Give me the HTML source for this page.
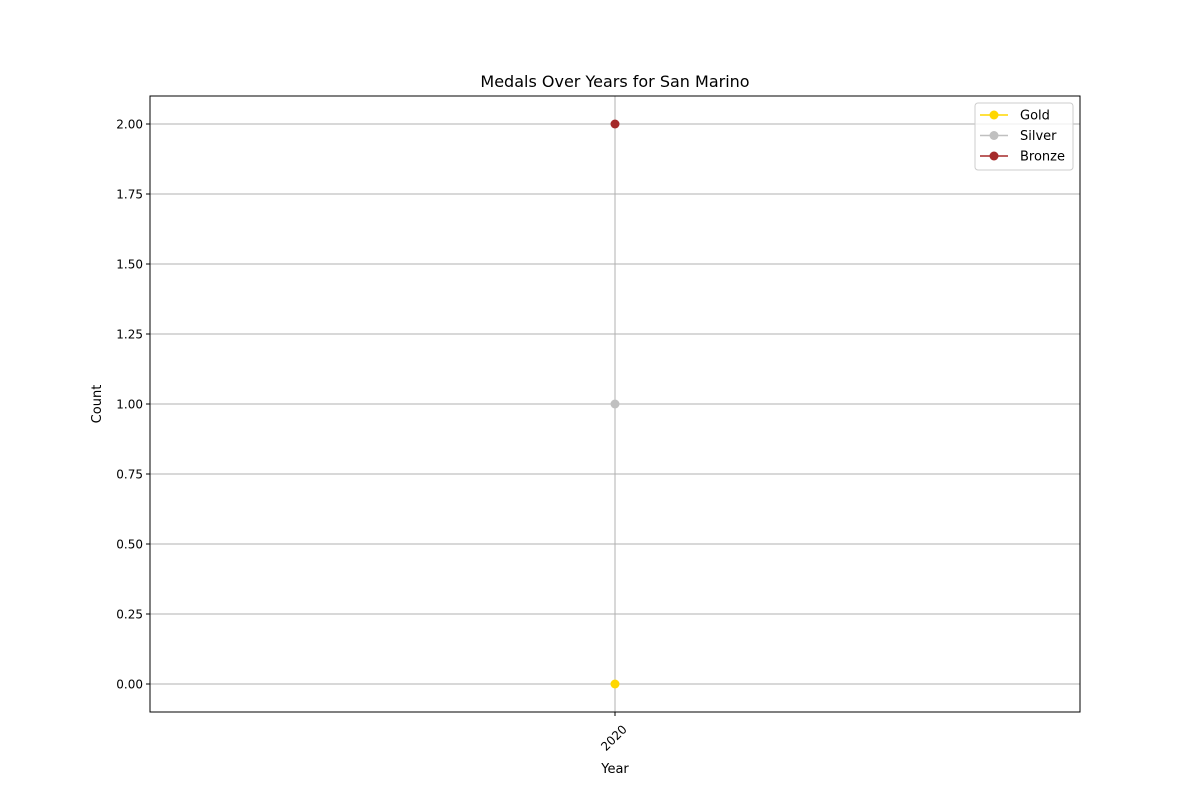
<!DOCTYPE html>
<html><head><meta charset="utf-8"><style>
html,body{margin:0;padding:0;background:#fff;}
svg{display:block;font-family:"DejaVu Sans","Liberation Sans",sans-serif;}
#grid line,#ticks line,.frame{shape-rendering:crispEdges;}
</style></head><body>
<svg id="chart" width="1200" height="800" viewBox="0 0 1200 800">
<rect x="0" y="0" width="1200" height="800" fill="#fff"/>
<g id="grid"></g>
<g id="series"></g>
<rect class="frame" x="150" y="96" width="930" height="616" fill="none" stroke="#000" stroke-width="1"/>
<g id="ticks"></g>
<text x="615" y="87" text-anchor="middle" font-size="16" fill="#000">Medals Over Years for San Marino</text>
<text x="615" y="773" text-anchor="middle" font-size="13" fill="#000">Year</text>
<text x="101" y="404" text-anchor="middle" font-size="13" fill="#000" transform="rotate(-90 101 404)">Count</text>
<g id="legend">
<rect x="975" y="103" width="98" height="67" rx="3" fill="#fff" fill-opacity="0.8" stroke="#ccc"/>
</g>
</svg>
<script>
const years = [2020];
const categories = ["Gold", "Silver", "Bronze"];
const colors = ["#FFD700", "#C0C0C0", "#A52A2A"];
const values = { Gold: [0], Silver: [1], Bronze: [2] };
const yTicks = [0, 0.25, 0.5, 0.75, 1, 1.25, 1.5, 1.75, 2];
const yTickLabels = ["0.00","0.25","0.50","0.75","1.00","1.25","1.50","1.75","2.00"];

const NS = "http://www.w3.org/2000/svg";
const L = 150, R = 1080, T = 96, B = 712;
const yMin = -0.1, yMax = 2.1;
function yScale(v){ return B - (v - yMin) / (yMax - yMin) * (B - T); }
function xScale(yr){
  if (years.length === 1) return (L + R) / 2;
  const mn = Math.min(...years), mx = Math.max(...years), pad = (mx - mn) * 0.05;
  return L + (yr - mn + pad) / (mx - mn + 2 * pad) * (R - L);
}
function mk(tag, attrs, parent){
  const e = document.createElementNS(NS, tag);
  for (const k in attrs) e.setAttribute(k, attrs[k]);
  parent.appendChild(e); return e;
}
const grid = document.getElementById('grid');
const ticks = document.getElementById('ticks');
yTicks.forEach((t, i) => {
  const y = yScale(t);
  const g = mk('line', {x1:L, x2:R, y1:y, y2:y, stroke:'#b0b0b0', 'stroke-width':1}, grid);
  
  
  const tk = mk('line', {x1:L-4, x2:L, y1:y, y2:y, stroke:'#000', 'stroke-width':1}, ticks);
  
  
  const tx = mk('text', {x:L-7, y:y+4.5, 'text-anchor':'end', 'font-size':12, fill:'#000'}, ticks);
  tx.textContent = yTickLabels[i];
  
  
});
years.forEach(yr => {
  const x = xScale(yr);
  const g = mk('line', {x1:x, x2:x, y1:T, y2:B, stroke:'#b0b0b0', 'stroke-width':1}, grid);
  
  
  const tk = mk('line', {x1:x, x2:x, y1:B, y2:B+4, stroke:'#000', 'stroke-width':1}, ticks);
  
  
  const cx = x - 1, cy = B + 26;
  const tx = mk('text', {x:cx, y:cy+4, 'text-anchor':'middle', 'font-size':12, fill:'#000', transform:`rotate(-45 ${cx} ${cy})`}, ticks);
  tx.textContent = String(yr);
  
  
});
const series = document.getElementById('series');
categories.forEach((c, ci) => {
  const pts = years.map((yr, i) => [xScale(yr), yScale(values[c][i])]);
  if (pts.length > 1) {
    const pl = mk('polyline', {points: pts.map(p => p.join(',')).join(' '), fill:'none', stroke:colors[ci], 'stroke-width':1.5}, series);
    
    
  }
  pts.forEach(p => {
    const m = mk('circle', {cx:p[0], cy:p[1], r:4.5, fill:colors[ci]}, series);
    
    
  });
});
const legend = document.getElementById('legend');
categories.forEach((c, ci) => {
  const y = 115 + ci * 20.5;
  const g = mk('g', {}, legend);
  
  
  mk('line', {x1:980, x2:1008, y1:y, y2:y, stroke:colors[ci], 'stroke-width':1.5}, g);
  mk('circle', {cx:994, cy:y, r:4.5, fill:colors[ci]}, g);
  const t = mk('text', {x:1020, y:y+4.5, 'font-size':13, fill:'#000'}, g);
  t.textContent = c;
});
</script>
</body></html>
